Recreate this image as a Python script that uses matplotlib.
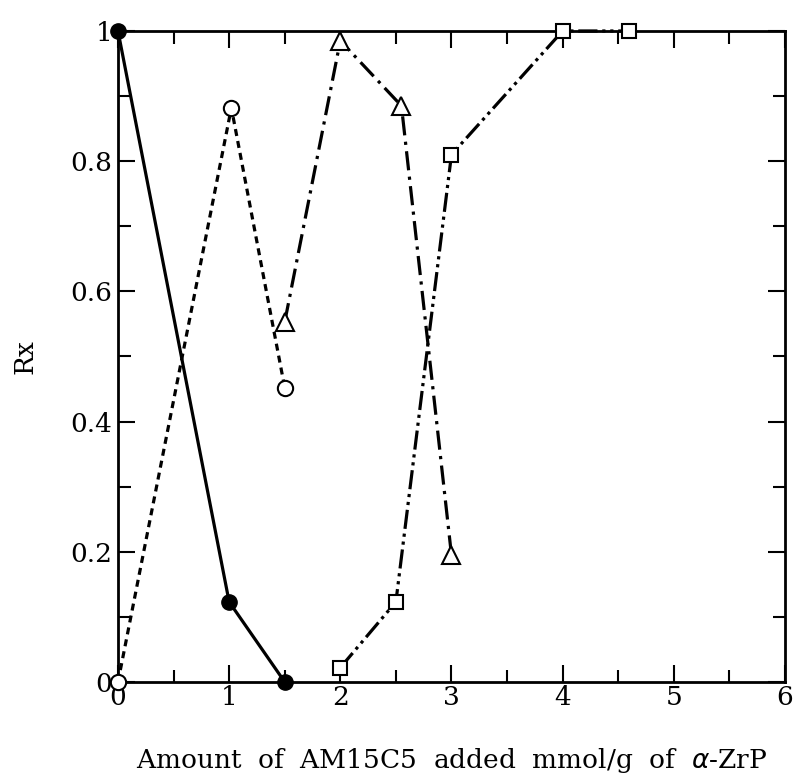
import matplotlib
matplotlib.use("Agg")
import matplotlib.pyplot as plt
from matplotlib.ticker import MultipleLocator

# data
x_filled = [0, 1.0, 1.5]
y_filled = [1.0, 0.123, 0.0]

x_open = [0, 1.02, 1.5]
y_open = [0.0, 0.882, 0.452]

x_tri = [1.5, 2.0, 2.55, 3.0]
y_tri = [0.553, 0.985, 0.885, 0.195]

x_sq = [2.0, 2.5, 3.0, 4.0, 4.6]
y_sq = [0.022, 0.123, 0.81, 1.0, 1.0]

x_ticks = [0, 1, 2, 3, 4, 5, 6]
y_ticks = [0, 0.2, 0.4, 0.6, 0.8, 1]
y_ticklabels = ['0', '0.2', '0.4', '0.6', '0.8', '1']

plt.rcParams['font.family'] = ['DejaVu Serif']

fig = plt.figure(figsize=(7.94, 7.82), dpi=100)
ax = fig.add_axes([0.1486, 0.1279, 0.84, 0.8325])

lw = 2.3
ax.plot(x_filled, y_filled, '-', color='black', lw=lw, marker='o',
        ms=11, mfc='black', mec='black', clip_on=False, zorder=3)
ax.plot(x_open, y_open, color='black', lw=lw, ls=(0, (2.2, 1.6)), marker='o',
        ms=11, mfc='white', mec='black', mew=1.5, clip_on=False, zorder=3)
ax.plot(x_tri, y_tri, color='black', lw=lw, ls=(0, (6, 2, 1, 2)), marker='^',
        ms=13, mfc='white', mec='black', mew=1.5, clip_on=False, zorder=3)
ax.plot(x_sq, y_sq, color='black', lw=lw, ls=(0, (6, 1.5, 1, 1.5, 1, 1.5)),
        marker='s', ms=10.5, mfc='white', mec='black', mew=1.5,
        clip_on=False, zorder=3)

ax.set_xlim(0, 6)
ax.set_ylim(0, 1)
ax.set_xticks(x_ticks)
ax.set_xticklabels([str(t) for t in x_ticks])
ax.set_yticks(y_ticks)
ax.set_yticklabels(y_ticklabels)
ax.xaxis.set_minor_locator(MultipleLocator(0.5))
ax.yaxis.set_minor_locator(MultipleLocator(0.1))

ax.tick_params(which='both', direction='in', top=True, right=True,
               width=1.5, labelsize=19)
ax.tick_params(which='major', length=12, pad=4)
ax.tick_params(which='minor', length=9)
ax.tick_params(axis='x', pad=2)
for s in ax.spines.values():
    s.set_linewidth(2)

ax.set_ylabel('Rx', fontsize=19, labelpad=24)
ax.set_xlabel('Amount  of  AM15C5  added  mmol/g  of  $\\alpha$-ZrP',
              fontsize=19, labelpad=26)

fig.savefig('out.png', dpi=100)
